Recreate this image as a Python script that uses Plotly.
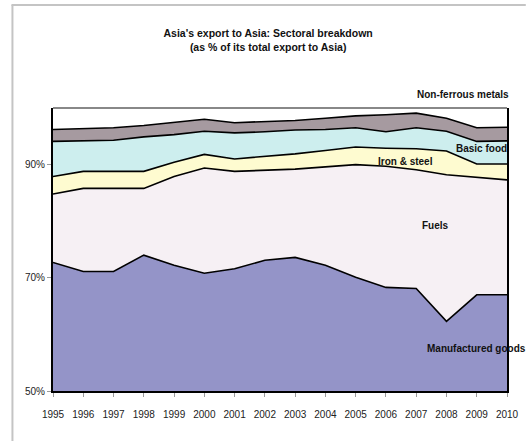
import plotly.graph_objects as go

years = list(range(1995, 2011))
manufactured = [72.7, 71.1, 71.1, 74.0, 72.2, 70.8, 71.6, 73.1, 73.6, 72.2, 70.1, 68.3, 68.1, 62.3, 67.0, 67.0]
fuels = [12.1, 14.7, 14.7, 11.8, 15.7, 18.6, 17.2, 15.9, 15.6, 17.4, 19.9, 21.4, 21.0, 25.9, 20.8, 20.3]
iron_steel = [3.1, 3.0, 3.0, 3.0, 2.5, 2.4, 2.2, 2.4, 2.7, 2.9, 3.1, 3.2, 3.7, 4.2, 2.3, 2.8]
basic_food = [6.2, 5.4, 5.5, 6.1, 4.9, 4.1, 4.6, 4.4, 4.2, 3.7, 3.4, 2.9, 3.7, 3.5, 4.0, 4.1]
non_ferrous = [2.1, 2.1, 2.2, 2.0, 2.2, 2.1, 1.8, 1.8, 1.7, 2.0, 2.1, 3.0, 2.6, 2.3, 2.4, 2.4]

y_ticks = [50, 70, 90]
y_tick_labels = ["50%", "70%", "90%"]

series = [
    ("Manufactured goods", manufactured, "#9494C8"),
    ("Fuels", fuels, "#F6F0F4"),
    ("Iron & steel", iron_steel, "#FEFBD0"),
    ("Basic food", basic_food, "#CDEEEE"),
    ("Non-ferrous metals", non_ferrous, "#A69AA0"),
]

FONT = "Liberation Sans, Arial, sans-serif"

fig = go.Figure()
for name, vals, col in series:
    fig.add_trace(go.Scatter(
        x=years, y=vals, name=name, mode="lines", stackgroup="one",
        line=dict(color="black", width=1.6), fillcolor=col,
        hoverinfo="skip", showlegend=False,
    ))

L, R, T, B = 53, 19, 108, 50
W, H = 531, 441
pw, ph = W - L - R, H - T - B

def px(xp):
    return (xp - L) / pw

def py(yp):
    return (H - B - yp) / ph

labels = [
    ("Non-ferrous metals", 468, 94),
    ("Basic food", 486, 148),
    ("Iron & steel", 409.5, 161),
    ("Fuels", 439.5, 225),
    ("Manufactured goods", 481, 348),
]
for text, xx, yy in labels:
    fig.add_annotation(x=px(xx), y=py(yy), xref="paper", yref="paper",
                       text="<b>" + text + "</b>", showarrow=False,
                       xanchor="center", yanchor="middle",
                       font=dict(family=FONT, size=10, color="#111111"))

# outer chart frame (left and top edges visible in the crop)
fig.add_shape(type="line", xref="paper", yref="paper",
              x0=px(12), x1=px(12), y0=py(460), y1=py(5),
              line=dict(color="#C4C4C4", width=2), layer="below")
fig.add_shape(type="line", xref="paper", yref="paper",
              x0=px(11), x1=px(531), y0=py(5), y1=py(5),
              line=dict(color="#C4C4C4", width=2), layer="below")
# top border of plot area
fig.add_shape(type="line", xref="paper", yref="paper",
              x0=0, x1=1, y0=1, y1=1, line=dict(color="#888888", width=2))

fig.update_layout(
    width=W, height=H,
    margin=dict(l=L, r=R, t=T, b=B),
    paper_bgcolor="white", plot_bgcolor="white",
    title=dict(text="<b>Asia's export to Asia: Sectoral breakdown<br>(as % of its total export to Asia)</b>",
               x=0.505, xanchor="center", y=1 - 37 / H, yanchor="middle",
               font=dict(family=FONT, size=10.5, color="#111111")),
    font=dict(family=FONT, size=10, color="#222222"),
)
fig.update_xaxes(range=[1995, 2010], tickmode="array", tickvals=years,
                 ticktext=[str(y) for y in years],
                 showgrid=False, zeroline=False, showline=True,
                 linecolor="black", linewidth=2, ticks="outside", ticklen=4,
                 tickcolor="#999999", ticklabelstandoff=9,
                 tickfont=dict(family=FONT, size=10, color="#222222"))
fig.update_yaxes(range=[50, 100], tickmode="array", tickvals=y_ticks,
                 ticktext=y_tick_labels, showgrid=False, zeroline=False,
                 showline=True, linecolor="black", linewidth=2, mirror=True,
                 ticks="outside", ticklen=4, tickcolor="#999999",
                 tickfont=dict(family=FONT, size=10, color="#222222"))

fig.write_html("out.html", config={"displayModeBar": False, "staticPlot": True},
               post_script="document.body.style.margin='0';document.body.style.overflow='hidden';document.documentElement.style.overflow='hidden';")
